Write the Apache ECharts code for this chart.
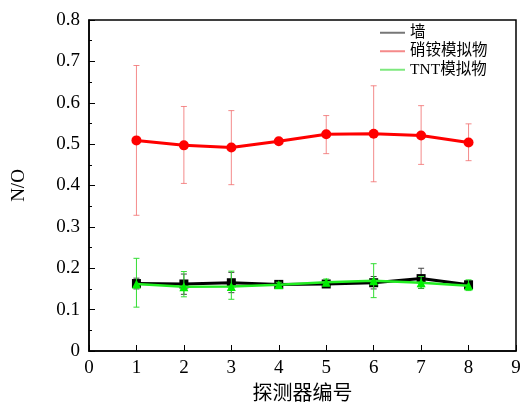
<!DOCTYPE html>
<html><head><meta charset="utf-8">
<script src="https://cdn.jsdelivr.net/npm/echarts@6/dist/echarts.min.js"></script>
<style>html,body{margin:0;padding:0;background:#fff}#c{width:521px;height:405px}</style>
</head><body><div id="c"></div>
<script>
const detectors = [1,2,3,4,5,6,7,8];
const seriesNames = ['墙','硝铵模拟物','TNT模拟物'];
const wallVals = [0.163,0.162,0.165,0.161,0.162,0.165,0.175,0.160];
const wallLow  = [0.150,0.137,0.141,0.155,0.155,0.150,0.151,0.150];
const wallHigh = [0.176,0.186,0.190,0.167,0.169,0.180,0.200,0.170];
const anVals = [0.509,0.497,0.492,0.507,0.524,0.525,0.521,0.504];
const anLow  = [0.328,0.405,0.402,0.503,0.477,0.409,0.451,0.460];
const anHigh = [0.690,0.591,0.581,0.511,0.569,0.641,0.593,0.549];
const tntVals = [0.162,0.155,0.156,0.160,0.166,0.170,0.165,0.158];
const tntLow  = [0.106,0.131,0.125,0.154,0.158,0.129,0.152,0.146];
const tntHigh = [0.224,0.192,0.193,0.166,0.174,0.211,0.180,0.172];
const xTicks = {min:0,max:9,interval:1};
const yTicks = {min:0,max:0.8,interval:0.1};

function pts(vals){return detectors.map((d,i)=>[d,vals[i]]);}
function errData(lo,hi){return detectors.map((d,i)=>[d,lo[i],hi[i]]);}
function errSeries(lo,hi,color,z){
  return {type:'custom',silent:true,z:z,data:errData(lo,hi),
    renderItem:function(params,api){
      const x=api.value(0),l=api.value(1),h=api.value(2);
      const pl=api.coord([x,l]),ph=api.coord([x,h]);
      const w=3;
      const st={stroke:color,lineWidth:1};
      return {type:'group',children:[
        {type:'line',shape:{x1:pl[0],y1:pl[1],x2:ph[0],y2:ph[1]},style:st},
        {type:'line',shape:{x1:pl[0]-w,y1:pl[1],x2:pl[0]+w,y2:pl[1]},style:st},
        {type:'line',shape:{x1:ph[0]-w,y1:ph[1],x2:ph[0]+w,y2:ph[1]},style:st}
      ]};
    }};
}
const serifFont = '"Liberation Serif","Times New Roman",serif';
const cjkFont = '"Liberation Serif","Noto Sans CJK SC",serif';
const chart = echarts.init(document.getElementById('c'),null,{renderer:'canvas'});
chart.setOption({
  animation:false,
  backgroundColor:'#fff',
  grid:{left:89,right:5,top:20,bottom:54,containLabel:false,outerBoundsMode:'none',
    show:true,borderColor:'#000',borderWidth:1.5,backgroundColor:'transparent'},
  legend:{orient:'vertical',left:380,top:25,itemGap:3,itemWidth:25,itemHeight:2,icon:'rect',padding:0,
    textStyle:{fontFamily:cjkFont,fontSize:15.5,color:'#000'},
    data:[{name:seriesNames[0],itemStyle:{color:'#777'}},
          {name:seriesNames[1],itemStyle:{color:'#f58a8a'}},
          {name:seriesNames[2],itemStyle:{color:'#7ee87e'}}]},
  xAxis:{type:'value',min:xTicks.min,max:xTicks.max,interval:xTicks.interval,
    name:'探测器编号',nameLocation:'middle',nameGap:34,
    nameTextStyle:{fontFamily:cjkFont,fontSize:20,color:'#000'},
    axisLine:{lineStyle:{color:'#000',width:1.5}},
    axisTick:{inside:true,length:6,lineStyle:{color:'#000'}},
    axisLabel:{fontFamily:serifFont,fontSize:19,color:'#000',margin:8},
    splitLine:{show:false}},
  yAxis:{type:'value',min:yTicks.min,max:yTicks.max,interval:yTicks.interval,
    name:'N/O',nameLocation:'middle',nameGap:60,nameRotate:90,
    nameTextStyle:{fontFamily:serifFont,fontSize:19,color:'#000'},
    axisLine:{lineStyle:{color:'#000',width:1.5}},
    axisTick:{inside:true,length:6,lineStyle:{color:'#000'}},
    minorTick:{show:true,splitNumber:2,length:3,lineStyle:{color:'#000'}},
    axisLabel:{fontFamily:serifFont,fontSize:19,color:'#000',margin:9,
      formatter:v=>v===0?'0':v.toFixed(1)},
    splitLine:{show:false}},
  series:[
    errSeries(anLow,anHigh,'rgba(240,100,100,0.75)',1),
    {name:seriesNames[1],type:'line',data:pts(anVals),symbol:'circle',symbolSize:10,z:3,
      itemStyle:{color:'#ff0000'},lineStyle:{color:'#ff0000',width:3}},
    errSeries(wallLow,wallHigh,'#444',2),
    {name:seriesNames[0],type:'line',data:pts(wallVals),symbol:'rect',symbolSize:9,z:3,
      itemStyle:{color:'#000'},lineStyle:{color:'#000',width:3}},
    errSeries(tntLow,tntHigh,'#33dd33',4),
    {name:seriesNames[2],type:'line',data:pts(tntVals),symbol:'triangle',symbolSize:9,z:5,
      itemStyle:{color:'#00ee00'},lineStyle:{color:'#22ee22',width:2.5}}
  ]
});
</script></body></html>
